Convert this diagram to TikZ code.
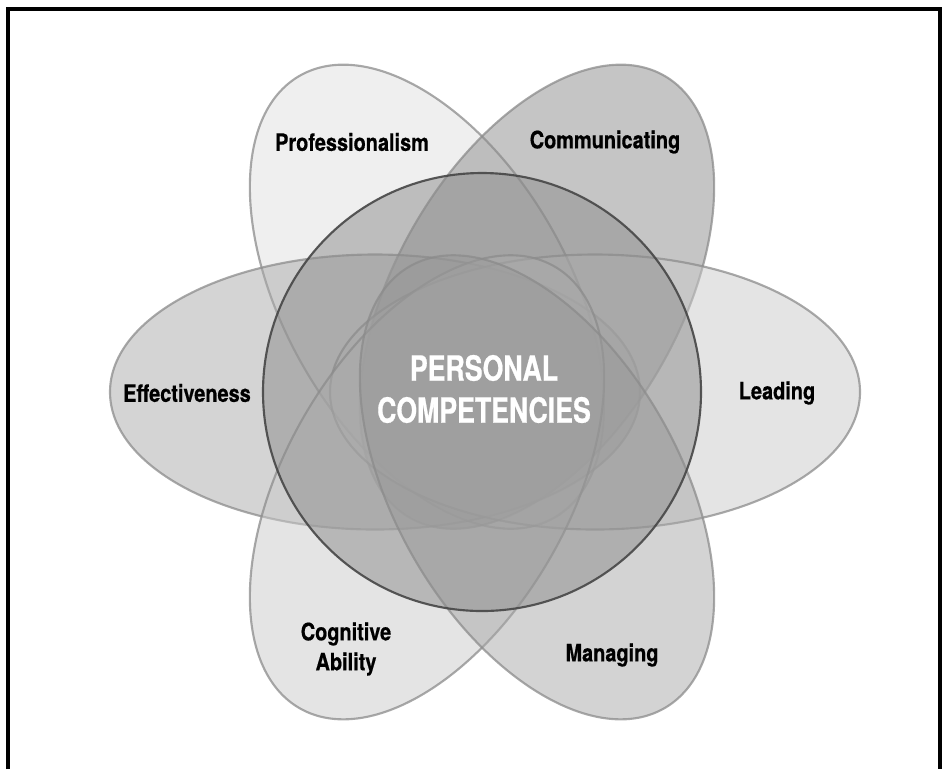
\documentclass[tikz,border=0pt]{standalone}
\usepackage{fontspec}
\setmainfont{TeX Gyre Heros}
\newfontfamily\tagfont{TeX Gyre Heros}[FakeStretch=0.83, BoldFeatures={FakeBold=0.6}]
\newfontfamily\corefont{TeX Gyre Heros}[FakeStretch=0.77, BoldFeatures={FakeBold=0.6}]
\begin{document}
\begin{tikzpicture}[x=0.75pt,y=0.75pt,yscale=-1,xscale=1,
	petal/.style={draw={rgb, 255:red, 140; green, 140; blue, 140}, draw opacity=0.75, line width=1.6, fill opacity=0.5},
	ring/.style={draw={rgb, 255:red, 70; green, 70; blue, 70}, draw opacity=0.9, line width=1.6, fill={rgb, 255:red, 140; green, 140; blue, 140}, fill opacity=0.5},
	tagtext/.style={font=\tagfont\fontsize{18}{22.5}\selectfont\bfseries, inner sep=0.75pt, align=center, text=black},
	coretext/.style={font=\corefont\fontsize{26}{31.5}\selectfont\bfseries, inner sep=0.75pt, align=center, text=white}
	]
	\useasboundingbox (0,0) rectangle (948,769);
	
	%Shape: Frame
	\draw [line width=2.8] (8,769) -- (8,9) -- (940,9) -- (940,769) ;
	
	%Shape: Ellipse Professionalism
	\draw [petal, fill={rgb, 255:red, 223; green, 223; blue, 223}, rotate around={60:(427,296.7)}] (427,296.7) ellipse (255 and 142) ;
	%Shape: Ellipse Communicating
	\draw [petal, fill={rgb, 255:red, 139; green, 139; blue, 139}, rotate around={-60:(537,296.7)}] (537,296.7) ellipse (255 and 142) ;
	%Shape: Ellipse Effectiveness
	\draw [petal, fill={rgb, 255:red, 169; green, 169; blue, 169}] (375,392) ellipse (265 and 137.5) ;
	%Shape: Ellipse Leading
	\draw [petal, fill={rgb, 255:red, 201; green, 201; blue, 201}] (595,392) ellipse (265 and 137.5) ;
	%Shape: Ellipse Cognitive Ability
	\draw [petal, fill={rgb, 255:red, 201; green, 201; blue, 201}, rotate around={-60:(427,487.3)}] (427,487.3) ellipse (255 and 142) ;
	%Shape: Ellipse Managing
	\draw [petal, fill={rgb, 255:red, 167; green, 167; blue, 167}, rotate around={60:(537,487.3)}] (537,487.3) ellipse (255 and 142) ;
	%Shape: Circle
	\draw [ring] (482,392) circle (219) ;
	
	% Text Node
	\node [tagtext] (prof) at (352,142) {Professionalism};
	% Text Node
	\node [tagtext] (comm) at (605,142) {Communicating};
	% Text Node
	\node [tagtext] (eff) at (187,393) {Effectiveness};
	% Text Node
	\node [tagtext] (lead) at (777,393) {Leading};
	% Text Node
	\node [tagtext] (cog) at (346,649) {Cognitive\\Ability};
	% Text Node
	\node [tagtext] (man) at (612,655) {Managing};
	% Text Node
	\node [coretext] (core) at (484,389) {PERSONAL\\COMPETENCIES};
	
\end{tikzpicture}
\end{document}
